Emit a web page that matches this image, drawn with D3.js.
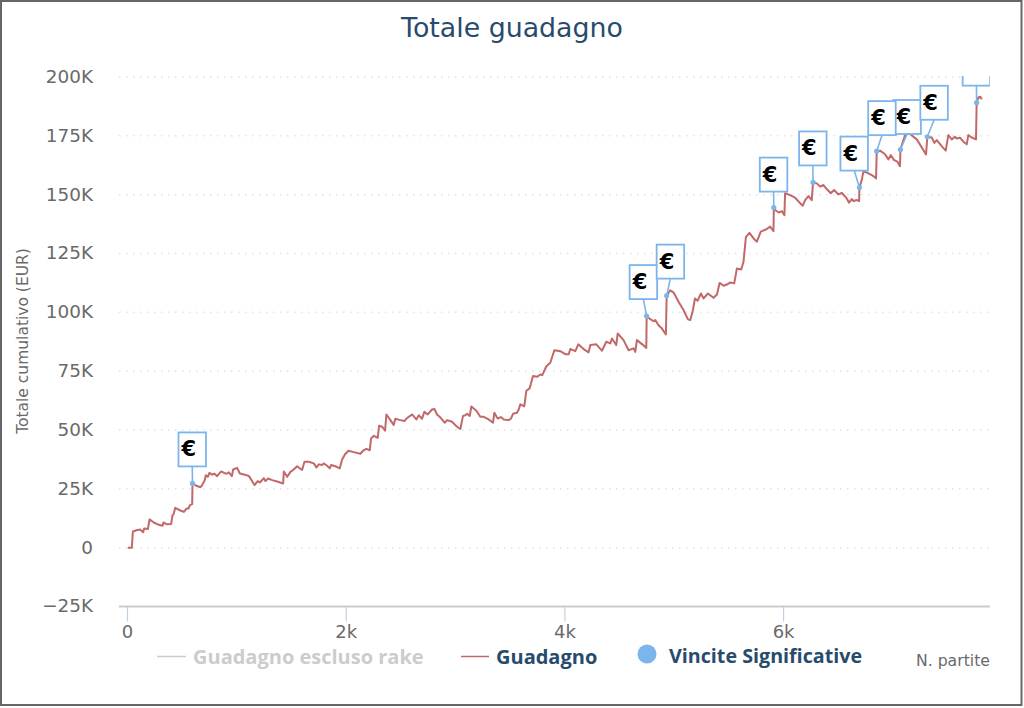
<!DOCTYPE html>
<html>
<head>
<meta charset="utf-8">
<script src="https://cdn.jsdelivr.net/npm/d3@7/dist/d3.min.js"></script>
<style>
  html, body { margin: 0; padding: 0; background: #fff; }
  svg { display: block; }
  text { font-family: "DejaVu Sans", sans-serif; }
  .legend-label { font-family: "Open Sans", sans-serif; font-weight: bold; }
</style>
</head>
<body>
<svg id="chart" width="1024" height="708"></svg>
<script>
// Hands played and cumulative winnings in thousands of euro
const games = [8,44,54,87,118,148,157,191,206,245,291,325,334,361,404,416,425,441,483,520,544,562,575,596,599,635,672,687,709,721,739,754,779,797,824,861,901,916,931,959,971,1007,1032,1068,1114,1166,1196,1215,1251,1266,1291,1327,1373,1428,1434,1464,1495,1519,1556,1601,1623,1662,1708,1732,1754,1784,1799,1830,1854,1867,1906,1946,
  1967,1994,2025,2073,2134,2159,2189,2220,2232,2256,2293,2305,2332,2360,2372,2409,2439,2454,2500,2537,2555,2576,2607,2646,2668,2698,2719,2750,2789,2811,2835,2866,2905,2927,2972,3018,3048,3073,3094,3109,3134,3149,3195,3231,3262,3307,3347,3359,3390,3420,3445,3490,3512,3530,3566,3582,3597,3633,3652,3682,3713,3749,3780,3798,3835,3871,3908,3963,4008,4039,4054,4100,4127,4176,4221,4237,4292,4343,4383,4420,4435,4474,4487,4541,4587,4633,4648,4663,4709,4749,
  4752,4785,4816,4831,4861,4892,4928,4935,4968,4999,5044,5090,5130,5151,5175,5194,5218,5248,5273,5312,5364,5395,5419,5456,5486,5517,5553,5577,5617,5638,5660,5692,5730,5760,5796,5851,5881,5912,
  5915,5927,5960,5988,6012,6018,6064,6110,6149,6180,6201,6232,6262,6274,6308,6338,6369,6399,6436,6466,6506,6536,6582,6603,6628,6643,6673,6695,6698,6719,6734,6771,6811,6835,6850,6856,
  6887,6932,6963,6984,7015,7045,7069,7073,7100,7121,7161,7222,7268,7307,7319,7359,7383,7405,7450,7487,7511,7542,7572,7587,7618,7648,7679,7694,7725,7764,7770,7785,7804,7816];
const totals = [0,0,6.9,7.4,7.7,6.6,8.1,7.9,12.0,10.7,9.7,9.3,10.7,10.0,10.1,13.8,14.1,16.9,15.9,15.2,16.6,16.6,18.1,18.5,27.3,26.3,25.7,26.6,28.4,30.8,30.1,31.8,31.0,31.5,30.4,32.4,31.5,31.5,32.0,30.4,33.2,33.9,31.5,31.1,30.5,26.6,28.3,27.7,29.5,28.3,29.4,28.7,28.1,27.3,32.4,30.1,32.2,33.0,34.6,33.0,36.5,36.5,35.8,34.1,35.4,35.1,35.8,34.8,33.7,35.1,34.6,33.7,
  37.5,39.7,41.2,40.6,39.9,41.2,42.0,41.4,46.4,47.5,46.7,51.8,51.4,49.7,56.6,54.2,52.1,54.8,54.2,53.8,54.8,55.6,56.6,54.5,56.3,54.8,57.7,56.6,58.7,58.9,56.6,55.3,53.1,54.2,53.5,51.4,50.4,56.0,56.3,56.9,56.0,60.0,58.2,55.6,55.6,54.5,53.1,57.3,54.9,55.5,54.5,54.2,54.9,56.9,57.3,58.7,60.9,60.1,66.7,67.7,72.9,72.6,73.6,73.3,77.1,78.6,83.9,83.5,82.2,82.2,84.4,83.5,86.4,84.4,83.0,86.1,86.4,83.7,87.5,86.8,88.9,86.1,91.0,88.2,83.9,84.7,83.2,88.2,86.5,84.9,
  98.4,97.1,96.2,96.7,94.5,93.1,90.6,107.1,109.4,108.4,104.5,100.9,97.0,96.7,100.9,105.9,104.9,108.0,105.9,108.0,106.2,107.6,112.5,111.3,111.8,112.7,112.3,118.6,118.2,121.5,132.1,133.8,131.4,130.0,134.3,135.4,136.4,134.5,
  144.5,143.5,142.4,143.0,141.3,150.6,149.8,148.7,146.7,145.3,147.7,149.4,147.7,155.2,154.8,153.4,154.1,152.4,150.6,152.0,150.1,150.8,148.4,146.6,148.1,147.3,147.7,147.3,153.0,156.2,159.8,159.3,158.3,157.6,156.9,168.5,
  168.7,167.2,165.0,166.8,164.7,164.0,162.1,169.2,173.2,175.8,175.8,173.5,170.1,167.1,174.6,174.3,172.0,173.2,170.6,168.7,175.3,173.5,174.6,173.9,174.2,172.5,171.4,175.3,174.3,173.5,189.1,191.3,191.6,190.5];

// Significant wins, flagged along the curve
const winGames = [599,4752,4935,5915,6274,6698,6856,7073,7319,7770];
const winTotals = [27.3,98.4,107.1,144.5,155.2,153.0,168.5,169.2,174.6,189.1];
const winSymbol = "€";

const yTickValues = [-25,0,25,50,75,100,125,150,175,200];
const xTickValues = [0,2000,4000,6000];
const legendNames = ["Guadagno escluso rake","Guadagno","Vincite Significative"];
const titleText = "Totale guadagno";
const yTitleText = "Totale cumulativo (EUR)";
const xTitleText = "N. partite";

// Where each flag sits relative to the point it marks, drawn back to front
const flagOffsets = [[-14,-51],[-17,-51],[-10,-51],[-14,-50],[-14,-51],[-19,-51],[-8.5,-50],[-7,-49.5],[-7,-51],[-14,-51]];
const flagOrder = [0,1,2,3,4,5,7,6,8,9];

const svg = d3.select("#chart");
const plot = { left: 119, right: 990, top: 77, bottom: 606.5 };
const x = d3.scaleLinear().domain([0, 7892]).range([127, 990]);
const y = d3.scaleLinear().domain([-25, 200]).range([plot.bottom, plot.top]);

const axisGrey = "#6a6a6a";
const titleBlue = "#274b6d";
const flagBlue = "#7cb5ec";
const lineRed = "#c26868";

// Outer frame
svg.append("rect").attr("x", 1).attr("y", 1).attr("width", 1020.5).attr("height", 704)
  .attr("fill", "#fff").attr("stroke", "#666").attr("stroke-width", 2);

svg.append("defs").append("clipPath").attr("id", "plot-clip").append("rect")
  .attr("x", plot.left).attr("y", plot.top - 1)
  .attr("width", plot.right - plot.left).attr("height", plot.bottom - plot.top + 1);

// Title
svg.append("text").attr("x", 512).attr("y", 37).attr("text-anchor", "middle")
  .attr("font-size", 26.8).attr("fill", titleBlue).text(titleText);

// Horizontal grid and value axis
const yAxis = d3.axisLeft(y).tickValues(yTickValues).tickSize(0).tickPadding(0)
  .tickFormat(d => (d < 0 ? "\u2212" + (-d) + "K" : d === 0 ? "0" : d + "K"));
const yG = svg.append("g").attr("transform", "translate(93,-1)").call(yAxis);
yG.select(".domain").remove();
yG.selectAll("text").attr("font-size", 18.4).attr("fill", axisGrey).attr("dy", "0.35em");

svg.append("g").selectAll("line").data(yTickValues.filter(d => d !== -25)).join("line")
  .attr("x1", plot.left).attr("x2", plot.right)
  .attr("y1", d => y(d)).attr("y2", d => y(d))
  .attr("stroke", "#e2e2e2").attr("stroke-width", 1.5).attr("stroke-dasharray", "1.5 5.5");

// Count axis
const xAxis = d3.axisBottom(x).tickValues(xTickValues).tickSize(15).tickPadding(4)
  .tickFormat(d => d === 0 ? "0" : (d / 1000) + "k");
const xG = svg.append("g").attr("transform", `translate(0,${plot.bottom})`).call(xAxis);
xG.select(".domain").remove();
xG.selectAll("line").attr("stroke", "#c0d0e0").attr("stroke-width", 1.2);
xG.selectAll("text").attr("font-size", 18).attr("fill", axisGrey).attr("dy", "0.71em");
svg.append("line").attr("x1", plot.left).attr("x2", plot.right)
  .attr("y1", plot.bottom).attr("y2", plot.bottom)
  .attr("stroke", "#c8ccd2").attr("stroke-width", 2);

// Axis titles
svg.append("text").attr("transform", `translate(28,${341}) rotate(-90)`)
  .attr("text-anchor", "middle").attr("font-size", 15.5).attr("fill", axisGrey).text(yTitleText);
svg.append("text").attr("x", 990).attr("y", 666).attr("text-anchor", "end")
  .attr("font-size", 15.7).attr("fill", axisGrey).text(xTitleText);

// Cumulative curve
const line = d3.line().x((d, i) => x(games[i])).y(d => y(d));
const chartArea = svg.append("g").attr("clip-path", "url(#plot-clip)");
chartArea.append("path").datum(totals).attr("d", line)
  .attr("fill", "none").attr("stroke", lineRed).attr("stroke-width", 2)
  .attr("stroke-linejoin", "round");

// Win flags: a connector, a boxed symbol and a dot on the curve
const flags = chartArea.append("g").selectAll("g").data(flagOrder).join("g")
  .attr("transform", i => `translate(${x(winGames[i])},${y(winTotals[i])})`);
const boxWidth = 27.5, boxHeight = 34;
flags.append("line")
  .attr("x1", i => flagOffsets[i][0] + boxWidth / 2)
  .attr("y1", i => flagOffsets[i][1] + boxHeight)
  .attr("x2", 0).attr("y2", 0)
  .attr("stroke", flagBlue).attr("stroke-width", 1.6);
flags.append("circle").attr("r", 2.6).attr("fill", flagBlue);
flags.append("rect")
  .attr("x", i => flagOffsets[i][0]).attr("y", i => flagOffsets[i][1])
  .attr("width", boxWidth).attr("height", boxHeight)
  .attr("fill", "#fff").attr("stroke", flagBlue).attr("stroke-width", 1.8);
flags.append("text")
  .attr("x", i => flagOffsets[i][0] + 3)
  .attr("y", i => flagOffsets[i][1] + 24)
  .attr("font-family", "'Open Sans', sans-serif")
  .attr("font-size", 21).attr("font-weight", "bold").attr("fill", "#000").text(winSymbol);

// Legend
const legend = svg.append("g");
legend.append("line").attr("x1", 157).attr("x2", 186).attr("y1", 656.5).attr("y2", 656.5)
  .attr("stroke", "#ccc").attr("stroke-width", 1.5);
legend.append("text").attr("class", "legend-label").attr("x", 193).attr("y", 664).attr("font-size", 20)
  .attr("fill", "#ccc").text(legendNames[0]);
legend.append("line").attr("x1", 461).attr("x2", 489).attr("y1", 656.5).attr("y2", 656.5)
  .attr("stroke", lineRed).attr("stroke-width", 1.5);
legend.append("text").attr("class", "legend-label").attr("x", 496).attr("y", 664).attr("font-size", 20)
  .attr("fill", titleBlue).text(legendNames[1]);
legend.append("circle").attr("cx", 647).attr("cy", 654).attr("r", 9.5).attr("fill", flagBlue);
legend.append("text").attr("class", "legend-label").attr("x", 669).attr("y", 663).attr("font-size", 19.7)
  .attr("fill", titleBlue).text(legendNames[2]);
</script>
</body>
</html>
